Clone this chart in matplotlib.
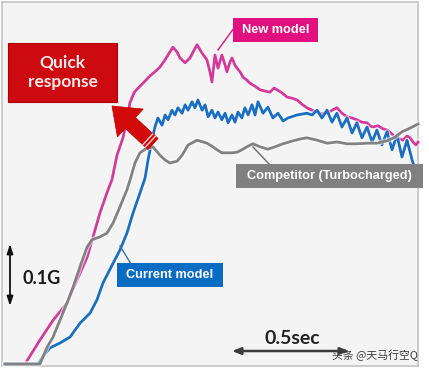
import numpy as np
import matplotlib
matplotlib.use("Agg")
import matplotlib.pyplot as plt
from matplotlib.patches import Rectangle, FancyArrow
from matplotlib.transforms import Affine2D
import matplotlib.patheffects as pe

# ---- data: time (s) vs. longitudinal acceleration (G) ----
new_t = [0.000, 0.087, 0.152, 0.209, 0.239, 0.270, 0.313, 0.357, 0.383, 0.413,
         0.443, 0.465, 0.487, 0.513, 0.530, 0.543, 0.561, 0.574, 0.600, 0.630,
         0.652, 0.674, 0.696, 0.717, 0.730, 0.748, 0.761, 0.783, 0.804, 0.822,
         0.835, 0.857, 0.878, 0.891, 0.900, 0.913, 0.926, 0.943, 0.957, 0.965,
         0.978, 0.987, 1.000, 1.009, 1.022, 1.035, 1.052, 1.065, 1.087, 1.109,
         1.130, 1.152, 1.170, 1.183, 1.204, 1.226, 1.248, 1.270, 1.291, 1.313,
         1.335, 1.357, 1.378, 1.400, 1.422, 1.443, 1.465, 1.487, 1.509, 1.530,
         1.552, 1.574, 1.587, 1.600, 1.622, 1.643, 1.661, 1.683, 1.704, 1.717,
         1.730, 1.748, 1.761, 1.774, 1.787, 1.796]
new_g = [0.000, 0.000, 0.040, 0.073, 0.087, 0.102, 0.140, 0.178, 0.212, 0.252,
         0.285, 0.307, 0.348, 0.377, 0.407, 0.435, 0.452, 0.458, 0.468, 0.480,
         0.487, 0.495, 0.507, 0.520, 0.528, 0.520, 0.510, 0.502, 0.510, 0.523,
         0.532, 0.518, 0.507, 0.487, 0.470, 0.515, 0.493, 0.515, 0.498, 0.487,
         0.503, 0.510, 0.498, 0.493, 0.487, 0.478, 0.473, 0.468, 0.463, 0.457,
         0.455, 0.453, 0.460, 0.457, 0.452, 0.445, 0.443, 0.440, 0.433, 0.427,
         0.423, 0.420, 0.417, 0.418, 0.423, 0.427, 0.418, 0.412, 0.410, 0.407,
         0.403, 0.402, 0.397, 0.395, 0.397, 0.392, 0.390, 0.383, 0.378, 0.375,
         0.373, 0.380, 0.377, 0.370, 0.365, 0.370]

cur_t = [0.000, 0.143, 0.170, 0.196, 0.239, 0.283, 0.326, 0.370, 0.400, 0.426,
         0.470, 0.500, 0.530, 0.557, 0.587, 0.609, 0.622, 0.639, 0.652, 0.665,
         0.683, 0.696, 0.709, 0.726, 0.739, 0.752, 0.770, 0.783, 0.796, 0.813,
         0.826, 0.839, 0.857, 0.870, 0.883, 0.900, 0.913, 0.926, 0.943, 0.957,
         0.970, 0.987, 1.000, 1.013, 1.030, 1.043, 1.057, 1.074, 1.087, 1.100,
         1.122, 1.143, 1.165, 1.187, 1.209, 1.230, 1.270, 1.313, 1.335, 1.357,
         1.378, 1.400, 1.422, 1.443, 1.465, 1.487, 1.509, 1.530, 1.552, 1.574,
         1.596, 1.617, 1.639, 1.661, 1.683, 1.704, 1.726, 1.748, 1.770, 1.787]
cur_g = [0.000, 0.000, 0.015, 0.027, 0.035, 0.045, 0.068, 0.085, 0.107, 0.135,
         0.168, 0.190, 0.218, 0.252, 0.285, 0.310, 0.340, 0.373, 0.395, 0.410,
         0.398, 0.415, 0.407, 0.423, 0.415, 0.427, 0.418, 0.432, 0.423, 0.437,
         0.427, 0.440, 0.423, 0.432, 0.412, 0.423, 0.410, 0.420, 0.407, 0.418,
         0.402, 0.415, 0.403, 0.420, 0.410, 0.427, 0.415, 0.432, 0.415, 0.437,
         0.418, 0.428, 0.410, 0.418, 0.405, 0.410, 0.415, 0.418, 0.415, 0.423,
         0.410, 0.423, 0.403, 0.418, 0.395, 0.410, 0.385, 0.402, 0.377, 0.395,
         0.370, 0.390, 0.365, 0.387, 0.357, 0.382, 0.345, 0.373, 0.340, 0.320]

comp_t = [0.000, 0.152, 0.183, 0.209, 0.239, 0.270, 0.296, 0.326, 0.357, 0.378,
          0.413, 0.443, 0.470, 0.500, 0.530, 0.548, 0.565, 0.587, 0.617, 0.643,
          0.674, 0.696, 0.717, 0.748, 0.770, 0.796, 0.835, 0.878, 0.900, 0.922,
          0.943, 0.987, 1.009, 1.030, 1.052, 1.078, 1.109, 1.143, 1.174, 1.209,
          1.252, 1.283, 1.313, 1.357, 1.400, 1.443, 1.487, 1.530, 1.574, 1.617,
          1.661, 1.696, 1.726, 1.761, 1.796]
comp_g = [0.000, 0.000, 0.028, 0.045, 0.073, 0.102, 0.128, 0.162, 0.195, 0.207,
          0.212, 0.218, 0.235, 0.262, 0.290, 0.312, 0.335, 0.352, 0.360, 0.362,
          0.348, 0.340, 0.335, 0.338, 0.348, 0.365, 0.373, 0.368, 0.363, 0.357,
          0.352, 0.352, 0.353, 0.357, 0.362, 0.367, 0.362, 0.358, 0.362, 0.367,
          0.372, 0.375, 0.377, 0.373, 0.368, 0.370, 0.367, 0.367, 0.368, 0.368,
          0.372, 0.378, 0.387, 0.393, 0.400]

series_names = ["New model", "Current model", "Competitor (Turbocharged)"]
series_colors = ["#d23a9c", "#1a6fc2", "#828282"]
label_colors = ["#e0117f", "#0b6cc4", "#808080"]

W, H = 429, 371
fig = plt.figure(figsize=(W / 100, H / 100), dpi=100, facecolor="white")
PX = Affine2D().scale(1 / W, -1 / H).translate(0, 1) + fig.transFigure

ax = fig.add_axes([2 / W, 1 - 366 / H, 416 / W, 364 / H])
ax.set_facecolor("#f4f4f4")
ax.set_xlim(-0.013, 1.7957)
ax.set_ylim(-0.0033, 0.6033)
ax.set_xticks([])
ax.set_yticks([])
for s in ax.spines.values():
    s.set_color("#c4c4c4")
    s.set_linewidth(1.2)

halo = [pe.withStroke(linewidth=3.8, foreground="white", alpha=0.55)]
order = [2, 0, 1]
data = [(new_t, new_g), (cur_t, cur_g), (comp_t, comp_g)]
for i in order:
    t, g = data[i]
    ax.plot(t, g, color=series_colors[i], lw=2.0, solid_joinstyle="round",
            path_effects=halo, zorder=3 + i, clip_on=False)

# ---- callout labels ----
def label(x, y, w, h, text, fc, fs=9.2):
    fig.patches.append(Rectangle((x, y), w, h, transform=PX, facecolor=fc,
                                 edgecolor="none", zorder=10))
    fig.text(x + w / 2, y + h / 2, text, transform=PX, ha="center", va="center",
             color="white", fontsize=fs, fontweight="bold",
             family="Liberation Sans", zorder=11)

def leader(x0, y0, x1, y1, c):
    fig.lines.append(plt.Line2D([x0, x1], [y0, y1], transform=PX, color=c,
                                lw=1.0, zorder=9))

leader(218, 50, 234, 28, label_colors[0])
label(233, 18, 85, 24, series_names[0], label_colors[0])
leader(120, 246, 131, 264, "#3a6f9a")
label(117, 263, 106, 24, series_names[1], label_colors[1])
leader(253, 147, 270, 165, "#6a6a6a")
label(236, 164, 187, 24, series_names[2], label_colors[2])

# ---- Quick response box & arrow ----
fig.patches.append(Rectangle((8, 43), 109, 59, transform=PX, facecolor="#cc0a10",
                             edgecolor="#b00008", lw=0.8, zorder=10))
fig.text(62.5, 72, "Quick\nresponse", transform=PX, ha="center", va="center",
         color="#ffe8e8", fontsize=12.5, fontweight="bold", family="Lato",
         linespacing=1.25, zorder=11)

tail = np.array([153.0, 144.0])
tip = np.array([112.0, 106.0])
d = tip - tail
fig.patches.append(FancyArrow(tail[0], tail[1], d[0], d[1], width=15,
                              head_width=38, head_length=25,
                              length_includes_head=True, transform=PX,
                              facecolor="#d20a0a", edgecolor="#c00000",
                              lw=0.5, zorder=10))
u = d / np.linalg.norm(d)
n = np.array([u[1], -u[0]])
for k in (3.5, 7.0):
    c = tail + u * k
    p0, p1 = c - n * 7, c + n * 7
    fig.lines.append(plt.Line2D([p0[0], p1[0]], [p0[1], p1[1]], transform=PX,
                                color="#ffd0d0", lw=1.0, zorder=11))

# ---- scale bars ----
ax.annotate("", xy=(10, 244), xytext=(10, 306), xycoords=PX, textcoords=PX,
            arrowprops=dict(arrowstyle="<|-|>,head_length=0.55,head_width=0.18",
                        color="#111111", lw=1.3, shrinkA=0, shrinkB=0))
fig.text(42, 279, "0.1G", transform=PX, ha="center", va="center",
         fontsize=13, fontweight="bold", family="Lato", color="#1a1a1a")

ax.annotate("", xy=(232, 351), xytext=(349, 351), xycoords=PX, textcoords=PX,
            arrowprops=dict(arrowstyle="<|-|>,head_length=0.5,head_width=0.2",
                        color="#3c3c3c", lw=1.8, shrinkA=0, shrinkB=0))
fig.text(292, 339, "0.5sec", transform=PX, ha="center", va="center",
         fontsize=14, fontweight="bold", family="Lato", color="#222222")

fig.text(375, 355, "头条 @天马行空Q", transform=PX, ha="center", va="center",
         fontsize=7.8, family=["Noto Sans CJK SC", "DejaVu Sans"], color="#3a3a3a",
         zorder=12)

fig.savefig("out.png", dpi=100, facecolor="white")
